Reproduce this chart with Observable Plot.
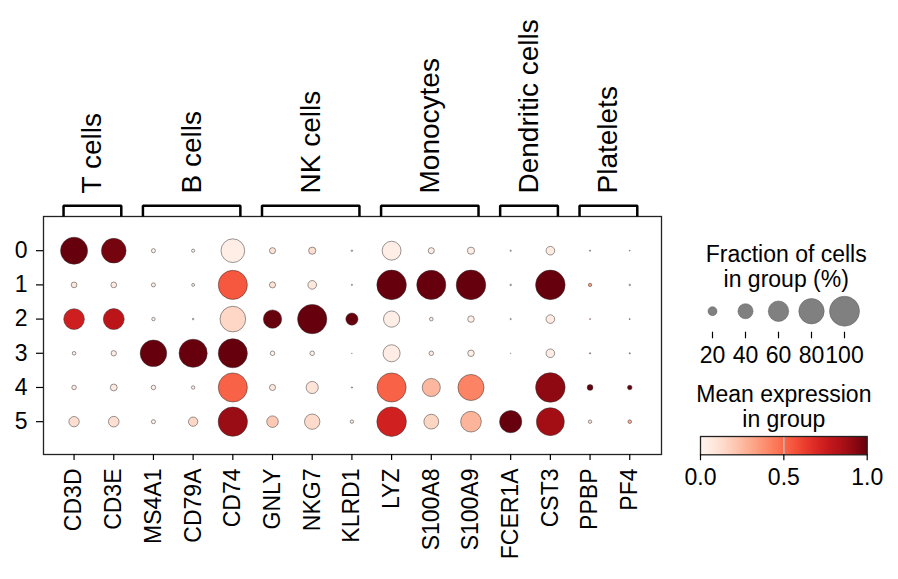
<!DOCTYPE html>
<html>
<head>
<meta charset="utf-8">
<script src="https://cdn.jsdelivr.net/npm/d3@7"></script>
<script src="https://cdn.jsdelivr.net/npm/@observablehq/plot@0.6"></script>
<style>
  body { margin: 0; background: #fff; }
  #chart { position: relative; width: 898px; height: 579px; background: #fff; overflow: hidden; }
  #chart svg { position: absolute; }
</style>
</head>
<body>
<div id="chart"></div>
<script>
// ---- data ----
const genes = ["CD3D","CD3E","MS4A1","CD79A","CD74","GNLY","NKG7","KLRD1","LYZ","S100A8","S100A9","FCER1A","CST3","PPBP","PF4"];
const clusters = ["0","1","2","3","4","5"];
const groupNames = ["T cells","B cells","NK cells","Monocytes","Dendritic cells","Platelets"];
const groupStart = [0, 2, 5, 8, 11, 13];
const groupEnd   = [1, 4, 7, 10, 12, 14];

// fraction of cells expressing (0-1), rows = clusters, cols = genes
const fraction = [
  [0.87, 0.77, 0.07, 0.05, 0.73, 0.12, 0.15, 0.02, 0.54, 0.12, 0.15, 0.015, 0.19, 0.015, 0.01],
  [0.11, 0.11, 0.07, 0.045, 0.96, 0.12, 0.19, 0.015, 0.98, 0.96, 0.98, 0.02, 0.98, 0.055, 0.02],
  [0.61, 0.62, 0.055, 0.02, 0.81, 0.52, 0.97, 0.30, 0.44, 0.06, 0.13, 0.015, 0.19, 0.01, 0.01],
  [0.06, 0.10, 0.85, 0.92, 0.96, 0.08, 0.08, 0.005, 0.47, 0.08, 0.13, 0.005, 0.19, 0.015, 0.015],
  [0.08, 0.14, 0.08, 0.055, 0.96, 0.12, 0.30, 0.015, 0.96, 0.51, 0.83, 0.0, 0.98, 0.11, 0.08],
  [0.24, 0.25, 0.07, 0.21, 0.97, 0.28, 0.41, 0.055, 0.98, 0.39, 0.61, 0.67, 0.91, 0.055, 0.06]
];
// mean expression in group (scaled 0-1)
const meanExpr = [
  [1.00, 0.97, 0.03, 0.02, 0.04, 0.10, 0.12, 0.05, 0.04, 0.06, 0.05, 0.10, 0.06, 0.10, 0.10],
  [0.08, 0.06, 0.04, 0.03, 0.55, 0.10, 0.08, 0.10, 1.00, 1.00, 1.00, 0.10, 1.00, 0.35, 0.10],
  [0.74, 0.80, 0.03, 0.02, 0.15, 1.00, 1.00, 1.00, 0.04, 0.04, 0.04, 0.10, 0.06, 0.50, 0.80],
  [0.04, 0.05, 1.00, 1.00, 1.00, 0.03, 0.03, 0.10, 0.05, 0.04, 0.04, 0.10, 0.05, 0.30, 0.30],
  [0.05, 0.07, 0.04, 0.03, 0.52, 0.08, 0.10, 0.10, 0.52, 0.26, 0.42, 0.00, 0.92, 1.00, 1.00],
  [0.12, 0.12, 0.04, 0.15, 0.89, 0.20, 0.14, 0.06, 0.73, 0.16, 0.27, 1.00, 0.87, 0.10, 0.30]
];
const sizeTicks = [20, 40, 60, 80, 100];
const colorTicks = [0, 0.5, 1];
const sizeTitle = "Fraction of cells\nin group (%)";
const colorTitle = "Mean expression\nin group";

// ---- derived tables ----
const cells = clusters.flatMap((c, i) => genes.map((g, j) => ({gi: j, ci: i, frac: fraction[i][j], mean: meanExpr[i][j]})));
const groups = groupNames.map((name, k) => ({
  name, x1: groupStart[k] - 0.265, x2: groupEnd[k] + 0.19
})).map(d => ({...d, mid: (d.x1 + d.x2) / 2}));
const bracketTop = -1.316;
const bracketPts = groups.flatMap(d => [
  {g: d.name, x: d.x1, y: -1}, {g: d.name, x: d.x1, y: bracketTop},
  {g: d.name, x: d.x2, y: bracketTop}, {g: d.name, x: d.x2, y: -1}
]);

const font = '"Liberation Sans", Arial, Helvetica, sans-serif';
const baseStyle = {fontFamily: font, fontSize: "23px", background: "transparent", color: "black", overflow: "visible"};
const colorScale = {type: "linear", scheme: "reds", domain: [0, 1]};

// ---- main dot plot ----
const main = Plot.plot({
  width: 898, height: 579,
  marginLeft: 43, marginRight: 237, marginTop: 216, marginBottom: 125,
  style: baseStyle,
  x: {type: "linear", domain: [-0.77, 14.8]},
  y: {type: "linear", domain: [-1, 5.96], reverse: true},
  r: {type: "pow", exponent: 0.75, domain: [0, 1], range: [0, 15]},
  color: colorScale,
  marks: [
    Plot.dot(cells, {x: "gi", y: "ci", r: "frac", fill: "mean", stroke: "#333", strokeWidth: 0.5}),
    Plot.frame({stroke: "#222", strokeWidth: 1.3}),
    Plot.axisX({ticks: genes.map((g, i) => i), tickFormat: i => genes[i], tickRotate: -90, tickSize: 6, tickPadding: 8, label: null, strokeWidth: 1.2}),
    Plot.axisY({ticks: clusters.map((c, i) => i), tickFormat: i => clusters[i], tickSize: 7, tickPadding: 9, label: null, strokeWidth: 1.2}),
    Plot.line(bracketPts, {x: "x", y: "y", z: "g", stroke: "black", strokeWidth: 2.5, strokeLinejoin: "miter", strokeLinecap: "butt"}),
    Plot.text(groups, {x: "mid", y: () => -1, dy: -23, text: "name", rotate: -90, textAnchor: "start", lineAnchor: "middle", fontSize: 28})
  ]
});
main.style.left = "0px"; main.style.top = "0px";

// ---- size legend ----
const sizeLegend = Plot.plot({
  width: 200, height: 140,
  marginLeft: 21.7, marginRight: 46.3, marginTop: 100, marginBottom: 38.3,
  style: baseStyle,
  x: {type: "point", domain: sizeTicks, padding: 0},
  r: {type: "pow", exponent: 0.75, domain: [0, 100], range: [0, 15]},
  marks: [
    Plot.dot(sizeTicks, {x: d => d, r: d => d, frameAnchor: "top", dy: -19.3, fill: "#808080", stroke: "#5a5a5a", strokeWidth: 0.5}),
    Plot.axisX({tickSize: 6.6, tickPadding: 8, label: null, strokeWidth: 1.2}),
    Plot.text([sizeTitle], {text: d => d, frameAnchor: "top", dy: -86, dx: 8, lineAnchor: "top", lineHeight: 1.07})
  ]
});
sizeLegend.style.left = "690px"; sizeLegend.style.top = "230px";

// ---- color bar legend ----
const colorLegend = Plot.plot({
  width: 200, height: 130,
  marginLeft: 10, marginRight: 23.3, marginTop: 66, marginBottom: 45.7,
  style: baseStyle,
  x: {type: "linear", domain: [0, 1]},
  y: {type: "linear", domain: [0, 1], axis: null},
  color: colorScale,
  marks: [
    Plot.raster({x1: 0, x2: 1, y1: 0, y2: 1, fill: (x, y) => x, width: 256, height: 1, imageRendering: "auto"}),
    Plot.ruleX([0.5], {stroke: "#bdbdbd", strokeWidth: 1.5}),
    Plot.frame({stroke: "#222", strokeWidth: 1.3}),
    Plot.axisX({ticks: colorTicks, tickFormat: d3.format(".1f"), tickSize: 6, tickPadding: 8, label: null, strokeWidth: 1.2}),
    Plot.text([colorTitle], {text: d => d, frameAnchor: "top", dy: -52, lineAnchor: "top", lineHeight: 1.07})
  ]
});
colorLegend.style.left = "690px"; colorLegend.style.top = "370px";

const chart = document.getElementById("chart");
chart.append(main, sizeLegend, colorLegend);
</script>
</body>
</html>
